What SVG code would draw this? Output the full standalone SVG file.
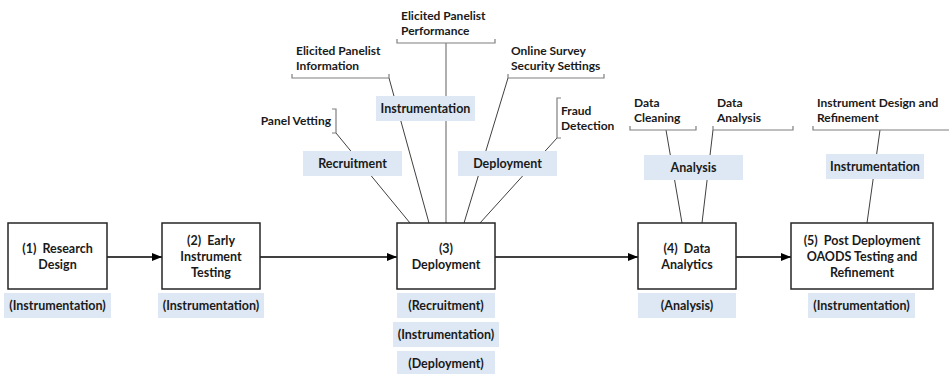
<svg xmlns="http://www.w3.org/2000/svg" width="949" height="374" viewBox="0 0 949 374">
<defs>
<style>
.box{fill:#fff;stroke:#262626;stroke-width:1.5}
.lab{fill:#dde8f4}
.t{font-family:Lato,"Liberation Sans",sans-serif;font-weight:bold;font-size:12.5px;fill:#1a1a1a;text-anchor:middle;white-space:pre}
.a{font-family:Lato,"Liberation Sans",sans-serif;font-weight:bold;font-size:12px;fill:#1a1a1a}
.br{fill:none;stroke:#7f7f7f;stroke-width:1.2}
.ln{fill:none;stroke:#404040;stroke-width:1}
.gl{fill:none;stroke:#a6a6a6;stroke-width:1.8}
.ar{fill:none;stroke:#000;stroke-width:1.5;marker-end:url(#ah)}
</style>
<marker id="ah" markerWidth="10" markerHeight="8" refX="10" refY="4" orient="auto" markerUnits="userSpaceOnUse">
<path d="M0,0 L10,4 L0,8 Z" fill="#000"/>
</marker>
</defs>
<rect width="949" height="374" fill="#fff"/>

<g id="connectors">
<path class="ar" d="M107,257 H162"/>
<path class="ar" d="M260,257 H397"/>
<path class="ar" d="M495,257 H638"/>
<path class="ar" d="M736,257 H791"/>
<path class="ln" d="M336,133 L410,223"/>
<path class="ln" d="M389,78 L429,223"/>
<path class="gl" d="M446,43 V223"/>
<path class="ln" d="M508,78 L464,223"/>
<path class="ln" d="M557,138 L480,223"/>
<path class="ln" d="M666,130 L682,223"/>
<path class="ln" d="M713,130 L702,223"/>
<path class="ln" d="M880,130 L867,223"/>
<path class="br" d="M397,39 V43 H495 V39"/>
<path class="br" d="M292,74 V78 H389 V74"/>
<path class="br" d="M508,74 V78 H604 V74"/>
<path class="br" d="M332,109 H336 V133 H332"/>
<path class="br" d="M561,98 H557 V138 H561"/>
<path class="br" d="M630,126 V130 H696 V126"/>
<path class="br" d="M713,126 V130 H793 V126"/>
<path class="br" d="M813,126 V130 H950"/>
</g>

<g id="ann-performance"><text class="a" x="401" y="20">Elicited Panelist</text><text class="a" x="401" y="35">Performance</text></g>
<g id="ann-information"><text class="a" x="296" y="55">Elicited Panelist</text><text class="a" x="296" y="70">Information</text></g>
<g id="ann-security"><text class="a" x="511" y="55">Online Survey</text><text class="a" x="511" y="70">Security Settings</text></g>
<g id="ann-vetting"><text class="a" x="331" y="125" text-anchor="end">Panel Vetting</text></g>
<g id="ann-fraud"><text class="a" x="561" y="115">Fraud</text><text class="a" x="561" y="130">Detection</text></g>
<g id="ann-cleaning"><text class="a" x="634" y="107">Data</text><text class="a" x="634" y="122">Cleaning</text></g>
<g id="ann-analysis"><text class="a" x="717" y="107">Data</text><text class="a" x="717" y="122">Analysis</text></g>
<g id="ann-design"><text class="a" x="817" y="107">Instrument Design and</text><text class="a" x="817" y="122">Refinement</text></g>

<g id="tag-recruitment"><rect class="lab" x="303" y="151" width="99" height="25"/><text class="t" x="352.5" y="168">Recruitment</text></g>
<g id="tag-instrumentation"><rect class="lab" x="376" y="96" width="99" height="25"/><text class="t" x="425.5" y="113">Instrumentation</text></g>
<g id="tag-deployment"><rect class="lab" x="458" y="151" width="99" height="25"/><text class="t" x="507.5" y="168">Deployment</text></g>
<g id="tag-analysis"><rect class="lab" x="644" y="155" width="99" height="25"/><text class="t" x="693.5" y="172">Analysis</text></g>
<g id="tag-instrumentation2"><rect class="lab" x="826" y="154" width="98" height="25"/><text class="t" x="875" y="171">Instrumentation</text></g>

<g id="node1"><rect class="box" x="8" y="223" width="99" height="66"/><text class="t" x="57.5" y="253">(1)  Research</text><text class="t" x="57.5" y="269">Design</text></g>
<g id="node2"><rect class="box" x="162" y="223" width="98" height="66"/><text class="t" x="211" y="245">(2)  Early</text><text class="t" x="211" y="261">Instrument</text><text class="t" x="211" y="277">Testing</text></g>
<g id="node3"><rect class="box" x="397" y="223" width="98" height="66"/><text class="t" x="446" y="253">(3)</text><text class="t" x="446" y="269">Deployment</text></g>
<g id="node4"><rect class="box" x="638" y="223" width="98" height="66"/><text class="t" x="687" y="253">(4)  Data</text><text class="t" x="687" y="269">Analytics</text></g>
<g id="node5"><rect class="box" x="791" y="223" width="142" height="66"/><text class="t" x="862" y="245">(5)  Post Deployment</text><text class="t" x="862" y="261">OAODS Testing and</text><text class="t" x="862" y="277">Refinement</text></g>

<g id="label1"><rect class="lab" x="4" y="293" width="107" height="25"/><text class="t" x="57.5" y="310">(Instrumentation)</text></g>
<g id="label2"><rect class="lab" x="158" y="293" width="106" height="25"/><text class="t" x="211" y="310">(Instrumentation)</text></g>
<g id="label3a"><rect class="lab" x="397" y="293" width="98" height="25"/><text class="t" x="446" y="310">(Recruitment)</text></g>
<g id="label3b"><rect class="lab" x="393" y="322" width="106" height="25"/><text class="t" x="446" y="339">(Instrumentation)</text></g>
<g id="label3c"><rect class="lab" x="397" y="351" width="98" height="23"/><text class="t" x="446" y="368">(Deployment)</text></g>
<g id="label4"><rect class="lab" x="638" y="293" width="98" height="25"/><text class="t" x="687" y="310">(Analysis)</text></g>
<g id="label5"><rect class="lab" x="808" y="293" width="107" height="25"/><text class="t" x="861.5" y="310">(Instrumentation)</text></g>
</svg>
